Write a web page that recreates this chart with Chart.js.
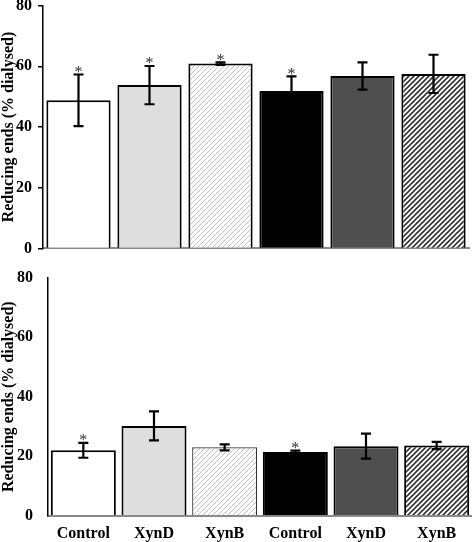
<!DOCTYPE html>
<html>
<head>
<meta charset="utf-8">
<script src="https://cdn.jsdelivr.net/npm/chart.js@4.4.1/dist/chart.umd.min.js"></script>
<style>
html, body { margin: 0; padding: 0; background: #fff; }
#wrap { position: relative; width: 472px; height: 542px; overflow: hidden; }
.panel { position: absolute; left: 0; width: 472px; }
</style>
</head>
<body>
<div id="wrap">
  <div class="panel" style="top:-10px;height:274px"><canvas id="topChart"></canvas></div>
  <div class="panel" style="top:263px;height:288px"><canvas id="botChart"></canvas></div>
</div>
<script>
var categories = ['Control', 'XynD', 'XynB', 'Control', 'XynD', 'XynB'];
var yTicks = [0, 20, 40, 60, 80];
var topValues = [48.8, 53.8, 60.9, 51.9, 56.8, 57.5];
var topErrors = [8.5, 6.3, 0.4, 4.8, 4.5, 6.3];
var topStars = [true, true, true, true, false, false];
var bottomValues = [22.0, 30.2, 23.0, 21.4, 23.4, 23.6];
var bottomErrors = [2.5, 4.9, 1.0, 0.5, 4.2, 1.2];
var bottomStars = [true, false, false, true, false, false];

var serif = "'Liberation Serif', 'Times New Roman', serif";

// diagonal hatch fill ("/" direction)
function hatch(ctx, color, size, width) {
  var c = document.createElement('canvas');
  c.width = size; c.height = size;
  var g = c.getContext('2d');
  g.fillStyle = '#fff';
  g.fillRect(0, 0, size, size);
  g.strokeStyle = color;
  g.lineWidth = width;
  g.beginPath();
  g.moveTo(0, size); g.lineTo(size, 0);
  g.moveTo(-size / 2, size / 2); g.lineTo(size / 2, -size / 2);
  g.moveTo(size / 2, size * 1.5); g.lineTo(size * 1.5, size / 2);
  g.stroke();
  return ctx.createPattern(c, 'repeat');
}

var errorBars = {
  id: 'errorBars',
  afterDatasetsDraw: function(chart, args, opts) {
    var ctx = chart.ctx, y = chart.scales.y;
    var bars = chart.getDatasetMeta(0).data;
    ctx.save();
    ctx.strokeStyle = '#000';
    ctx.lineWidth = 2.2;
    bars.forEach(function(bar, i) {
      var v = opts.values[i], e = opts.errors[i];
      var yt = y.getPixelForValue(v + e), yb = y.getPixelForValue(v - e);
      ctx.beginPath();
      ctx.moveTo(bar.x, yt); ctx.lineTo(bar.x, yb);
      ctx.moveTo(bar.x - 5, yt); ctx.lineTo(bar.x + 5, yt);
      ctx.moveTo(bar.x - 5, yb); ctx.lineTo(bar.x + 5, yb);
      ctx.stroke();
      if (opts.stars[i]) {
        ctx.fillStyle = '#333';
        ctx.font = '16px ' + serif;
        ctx.textAlign = 'center';
        ctx.textBaseline = 'middle';
        ctx.fillText('*', bar.x, yt - 2);
      }
    });
    ctx.restore();
  }
};

function makeChart(id, values, errors, stars, top) {
  var ctx = document.getElementById(id).getContext('2d');
  var fills = ['#ffffff', '#dedede', hatch(ctx, '#c4c4c4', 5, 1), '#000000', '#4f4f4f', hatch(ctx, '#333', 5, 1.6)];
  var borders = ['#000', '#000', top ? '#000' : '#333', '#000', '#000', '#000'];
  return new Chart(ctx, {
    type: 'bar',
    data: {
      labels: categories,
      datasets: [{
        data: values,
        backgroundColor: fills,
        borderColor: borders,
        borderWidth: top ? 2 : [2, 2, 1.2, 2, 2, 2],
        borderSkipped: 'bottom',
        barPercentage: top ? 0.905 : 0.92,
        categoryPercentage: 1
      }]
    },
    options: {
      responsive: true,
      maintainAspectRatio: false,
      animation: false,
      layout: { padding: top ? { top: 0, right: 3, bottom: 0 } : { top: 0, right: 0, bottom: 0 } },
      plugins: {
        legend: { display: false },
        tooltip: { enabled: false },
        errorBars: { values: values, errors: errors, stars: stars }
      },
      scales: {
        x: {
          grid: { display: false, drawTicks: false, tickLength: 0 },
          border: { display: true, color: '#8a8a8a', width: 2 },
          ticks: {
            display: !top,
            color: '#000',
            padding: 8,
            font: { family: serif, size: 16, weight: 'bold' }
          }
        },
        y: {
          min: 0, max: 80,
          afterFit: function(s) { s.width = top ? 43 : 48; },
          afterBuildTicks: function(s) { s.ticks = yTicks.map(function(v) { return { value: v }; }); },
          grid: {
            display: true, drawOnChartArea: false, drawTicks: true,
            tickLength: top ? 5 : 10,
            color: top ? '#000' : 'rgba(0,0,0,0)',
            lineWidth: 1.5
          },
          border: { display: true, color: '#000', width: 1.5 },
          ticks: {
            color: '#000',
            padding: top ? 6 : 5,
            font: { family: serif, size: 16, weight: 'bold' }
          },
          title: {
            display: true,
            text: 'Reducing ends (% dialysed)',
            color: '#000',
            padding: { top: 0, bottom: 0 },
            font: { family: serif, size: 16, weight: 'bold', lineHeight: 1.1 }
          }
        }
      }
    },
    plugins: [errorBars]
  });
}

makeChart('topChart', topValues, topErrors, topStars, true);
makeChart('botChart', bottomValues, bottomErrors, bottomStars, false);
</script>
</body>
</html>
